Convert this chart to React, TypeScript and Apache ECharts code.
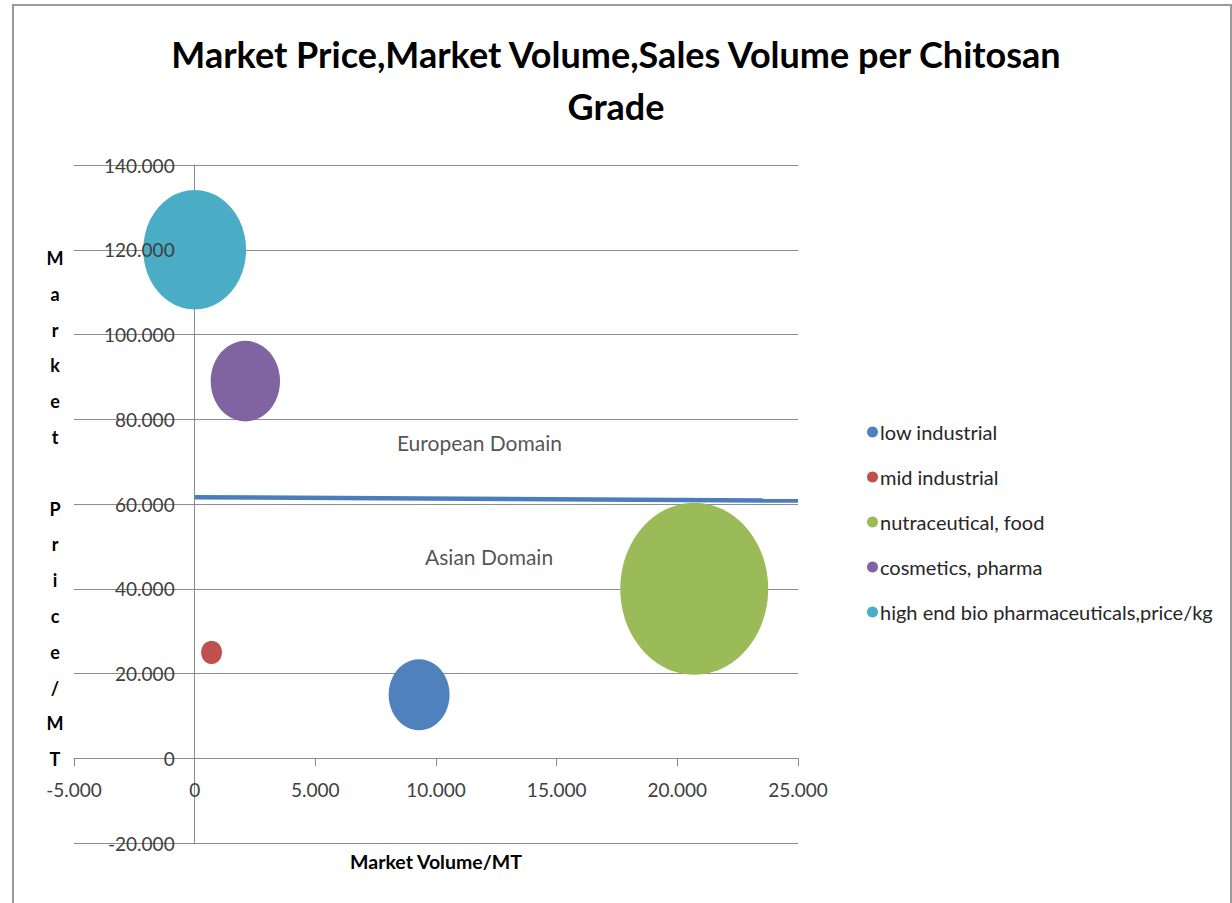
import React, { useEffect, useRef } from "react";
import * as echarts from "echarts";

// Data
const seriesNames = [
  "low industrial",
  "mid industrial",
  "nutraceutical, food",
  "cosmetics, pharma",
  "high end bio pharmaceuticals,price/kg",
];
const marketVolume = [9300, 700, 20700, 2100, 0];
const marketPrice = [15000, 25000, 40000, 89000, 120000];
const salesVolume = [510, 55, 3000, 660, 1450];
const colors = ["#4f81bd", "#c0504d", "#9bbb59", "#8064a2", "#4bacc6"];

const dividerX = [0, 25000];
const dividerY = [61600, 60800];

const annotations = [
  { x: 11800, y: 74400, text: "European Domain" },
  { x: 12200, y: 47700, text: "Asian Domain" },
];

const xTicks = { min: -5000, max: 25000, interval: 5000 };
const yTicks = { min: -20000, max: 140000, interval: 20000 };

const fmt = (v: number) => {
  if (v === 0) return "0";
  const s = Math.abs(v).toString().replace(/\B(?=(\d{3})+(?!\d))/g, ".");
  return (v < 0 ? "-" : "") + s;
};

const FONT = "Lato, 'Open Sans', sans-serif";
const maxSize = Math.max(...salesVolume);

// grid layout (pixels)
const GRID = { left: 74, right: 434, top: 165, bottom: 60 };
const W = 1232;
const H = 903;
const gridW = W - GRID.left - GRID.right;
const gridH = H - GRID.top - GRID.bottom;
// move each axis onto the other axis's zero
const xAxisOffset = -((0 - yTicks.min) / (yTicks.max - yTicks.min)) * gridH;
const yAxisOffset = -((0 - xTicks.min) / (xTicks.max - xTicks.min)) * gridW;

const yLabelStyle = {
  margin: 20,
  fontFamily: FONT,
  fontSize: 19,
  color: "#404040",
  formatter: (v: number) => fmt(v),
};

export default function App() {
  const ref = useRef<HTMLDivElement>(null);
  useEffect(() => {
    if (!ref.current) return;
    const chart = echarts.init(ref.current, undefined, { renderer: "svg" });
    const bubbleSeries = seriesNames.map((name, i) => ({
      name,
      type: "scatter",
      data: [[marketVolume[i], marketPrice[i], salesVolume[i]]],
      symbolSize: (val: number[]) => {
        const h = Math.max(23, 172 * Math.sqrt(val[2] / maxSize));
        const w = Math.max(21, h * 0.86);
        return [w, h];
      },
      itemStyle: { color: colors[i], opacity: 1 },
      z: 3,
    }));
    chart.setOption({
      animation: false,
      backgroundColor: "#fff",
      color: colors,
      title: {
        text: "Market Price,Market Volume,Sales Volume per Chitosan\nGrade",
        left: "center",
        top: 23,
        textStyle: {
          fontFamily: FONT,
          fontWeight: "bold",
          fontSize: 36,
          lineHeight: 52,
          color: "#000",
        },
      },
      legend: {
        orient: "vertical",
        left: 862,
        top: 417,
        data: seriesNames,
        icon: "circle",
        itemWidth: 11,
        itemHeight: 11,
        itemGap: 25,
        textStyle: { fontFamily: FONT, fontSize: 20, color: "#262626", padding: [0, 0, 0, -3] },
      },
      grid: { ...GRID, containLabel: false, outerBoundsMode: "none" },
      xAxis: {
        type: "value",
        min: xTicks.min,
        max: xTicks.max,
        interval: xTicks.interval,
        position: "bottom",
        offset: xAxisOffset,
        name: "Market Volume/MT",
        nameLocation: "middle",
        nameGap: 93,
        nameTextStyle: { fontFamily: FONT, fontWeight: "bold", fontSize: 19.5, color: "#000" },
        axisLine: { onZero: false, lineStyle: { color: "#8c8c8c", width: 1 } },
        axisTick: { show: true, length: 8, lineStyle: { color: "#8c8c8c" } },
        axisLabel: {
          margin: 22,
          fontFamily: FONT,
          fontSize: 19,
          color: "#404040",
          formatter: (v: number) => fmt(v),
        },
        splitLine: { show: false },
      },
      yAxis: [
        {
          type: "value",
          min: yTicks.min,
          max: yTicks.max,
          interval: yTicks.interval,
          position: "left",
          offset: yAxisOffset,
          axisLine: { show: true, onZero: false, lineStyle: { color: "#8c8c8c", width: 1 } },
          axisTick: { show: false },
          axisLabel: { ...yLabelStyle, show: false },
          splitLine: { show: true, lineStyle: { color: "#8c8c8c", width: 1 } },
        },
        {
          // same scale; only carries the tick labels drawn above the bubbles
          type: "value",
          min: yTicks.min,
          max: yTicks.max,
          interval: yTicks.interval,
          position: "left",
          offset: yAxisOffset,
          z: 10,
          axisLine: { show: false, onZero: false },
          axisTick: { show: false },
          axisLabel: yLabelStyle,
          splitLine: { show: false },
        },
      ],
      graphic: [
        {
          type: "rect",
          shape: { x: 13, y: 5, width: 1218, height: 950 },
          style: { fill: "none", stroke: "#9a9a9a", lineWidth: 2 },
          silent: true,
        },
        {
          type: "text",
          x: 55,
          y: 240,
          style: {
            text: "Market Price/MT".split("").join("\n"),
            fontFamily: FONT,
            fontWeight: "bold",
            fontSize: 18,
            lineHeight: 35.8,
            fill: "#000",
            align: "center",
          },
        },
      ],
      series: [
        ...bubbleSeries,
        {
          name: "divider",
          type: "line",
          data: dividerX.map((x, i) => [x, dividerY[i]]),
          symbol: "none",
          lineStyle: { color: "#4a7ebb", width: 4.5 },
          z: 4,
          silent: true,
        },
        {
          name: "annotations",
          type: "scatter",
          data: annotations.map((a) => [a.x, a.y, a.text]),
          symbolSize: 0,
          label: {
            show: true,
            position: "inside",
            formatter: (p: any) => p.value[2],
            fontFamily: FONT,
            fontSize: 21,
            color: "#262626",
          },
          silent: true,
          z: 5,
        },
      ],
    });
    return () => chart.dispose();
  }, []);
  return (
    <div
      ref={ref}
      style={{ position: "absolute", left: 0, top: 0, width: W, height: H, background: "#fff" }}
    />
  );
}
